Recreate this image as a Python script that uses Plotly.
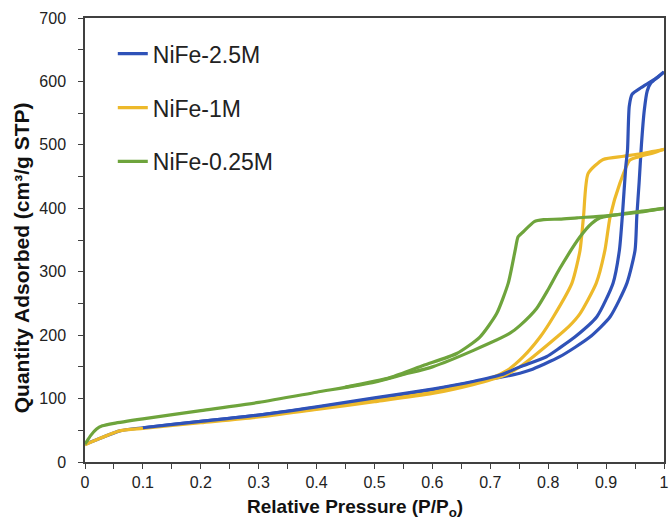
import plotly.graph_objects as go

# ---------------- data ----------------
series_names = ["NiFe-2.5M", "NiFe-1M", "NiFe-0.25M"]
series_colors = ["#2F52B8", "#EDB92A", "#6EA43C"]

# NiFe-2.5M
b_ads_x = [0.0, 0.02, 0.06, 0.1, 0.2, 0.3, 0.4, 0.5, 0.6, 0.67, 0.72, 0.751, 0.769, 0.82, 0.872,
           0.907, 0.936, 0.950, 0.953, 0.957, 0.961, 0.966, 0.971, 0.977, 0.99, 1.0]
b_ads_y = [28, 35, 49, 54, 64, 74, 86, 100, 114, 126, 134, 140, 145, 166, 197,
           229, 282, 334, 387, 440, 500, 555, 585, 597, 607, 615]
b_des_x = [1.0, 0.983, 0.96, 0.945, 0.940, 0.937, 0.934, 0.928, 0.923, 0.912, 0.884, 0.846,
           0.82, 0.797, 0.751, 0.72, 0.67, 0.6, 0.5, 0.4, 0.3, 0.2, 0.1]
b_des_y = [615, 603, 590, 580, 561, 492, 466, 387, 334, 282, 229, 197,
           180, 166, 150, 138, 127, 115, 101, 87, 74, 64, 54]

# NiFe-1M
y_ads_x = [0.0, 0.02, 0.06, 0.1, 0.2, 0.3, 0.4, 0.5, 0.6, 0.67, 0.72, 0.751, 0.774, 0.815,
           0.835, 0.855, 0.883, 0.898, 0.907, 0.924, 0.941, 0.96, 0.98, 1.0]
y_ads_y = [27, 35, 49, 53, 62, 71, 83, 95, 108, 122, 135, 150, 166, 197,
           213, 234, 282, 334, 387, 440, 476, 482, 487, 493]
y_des_x = [1.0, 0.96, 0.93, 0.895, 0.869, 0.861, 0.855, 0.841, 0.809, 0.786, 0.757, 0.73,
           0.7, 0.6, 0.5, 0.4]
y_des_y = [493, 486, 482, 477, 455, 387, 334, 282, 229, 197, 166, 145,
           132, 110, 97, 85]

# NiFe-0.25M
g_ads_x = [0.0, 0.01, 0.02, 0.03, 0.05, 0.1, 0.2, 0.3, 0.4, 0.5, 0.55, 0.6, 0.671,
           0.734, 0.751, 0.78, 0.80, 0.82, 0.855, 0.875, 0.89, 0.95, 1.0]
g_ads_y = [28, 42, 52, 57, 61, 68, 81, 94, 110, 126, 138, 150, 176,
           203, 215, 242, 272, 305, 355, 376, 385, 394, 400]
g_des_x = [1.0, 0.95, 0.9, 0.85, 0.82, 0.792, 0.776, 0.757, 0.748, 0.743, 0.731, 0.711,
           0.682, 0.642, 0.584, 0.527, 0.45]
g_des_y = [400, 393, 388, 385, 383, 382, 379, 363, 355, 334, 282, 234,
           197, 171, 152, 133, 118]

x_tickvals = [0, 0.1, 0.2, 0.3, 0.4, 0.5, 0.6, 0.7, 0.8, 0.9, 1]
x_ticktext = ["0", "0.1", "0.2", "0.3", "0.4", "0.5", "0.6", "0.7", "0.8", "0.9", "1"]
y_tickvals = [0, 100, 200, 300, 400, 500, 600, 700]

FONT = "'Liberation Sans', Arial, sans-serif"
LW = 3.2

fig = go.Figure()

def add(x, y, i, show, rank):
    fig.add_trace(go.Scatter(
        x=x, y=y, mode="lines", name=series_names[i],
        line=dict(color=series_colors[i], width=LW, shape="spline", smoothing=0.6),
        legendgroup=series_names[i], showlegend=show, legendrank=rank,
        hoverinfo="skip"))

add(b_ads_x, b_ads_y, 0, True, 1)
add(y_ads_x, y_ads_y, 1, True, 2)
add(y_des_x, y_des_y, 1, False, 2)
add(g_ads_x, g_ads_y, 2, True, 3)
add(g_des_x, g_des_y, 2, False, 3)
add(b_des_x, b_des_y, 0, False, 1)

axis_common = dict(
    showline=True, linecolor="#404040", linewidth=1.5, mirror=True,
    ticks="outside", ticklen=5, tickwidth=1.3, tickcolor="#404040",
    showgrid=False, zeroline=False, automargin=False,
    tickfont=dict(family=FONT, size=16, color="#222222"),
)

fig.update_layout(
    width=670, height=521,
    margin=dict(l=85, r=6, t=18, b=59),
    plot_bgcolor="white", paper_bgcolor="white",
    showlegend=True,
    legend=dict(
        x=0.048, y=0.968, xanchor="left", yanchor="top",
        font=dict(family=FONT, size=23, color="#222222"),
        bgcolor="rgba(0,0,0,0)", tracegroupgap=21,
        traceorder="grouped", itemwidth=30,
    ),
    xaxis=dict(range=[0, 1], tickvals=x_tickvals, ticktext=x_ticktext,
               minor=dict(dtick=0.05, ticks="outside", ticklen=5, tickcolor="#404040", tickwidth=1.3),
               **axis_common),
    yaxis=dict(range=[0, 700], tickvals=y_tickvals, ticklabelstandoff=9,
               minor=dict(dtick=50, ticks="outside", ticklen=5, tickcolor="#404040", tickwidth=1.3),
               **axis_common),
    annotations=[
        dict(text="Relative Pressure (P/P<sub>o</sub>)", x=0.466, y=-0.104,
             xref="paper", yref="paper", xanchor="center", yanchor="middle",
             showarrow=False, font=dict(family=FONT, size=19, color="#111111", weight="bold")),
        dict(text="Quantity Adsorbed (cm³/g STP)", x=-0.1105, y=0.459,
             xref="paper", yref="paper", xanchor="center", yanchor="middle",
             textangle=-90, showarrow=False,
             font=dict(family=FONT, size=21, color="#111111", weight="bold")),
    ],
)

fig.write_html("out.html")
